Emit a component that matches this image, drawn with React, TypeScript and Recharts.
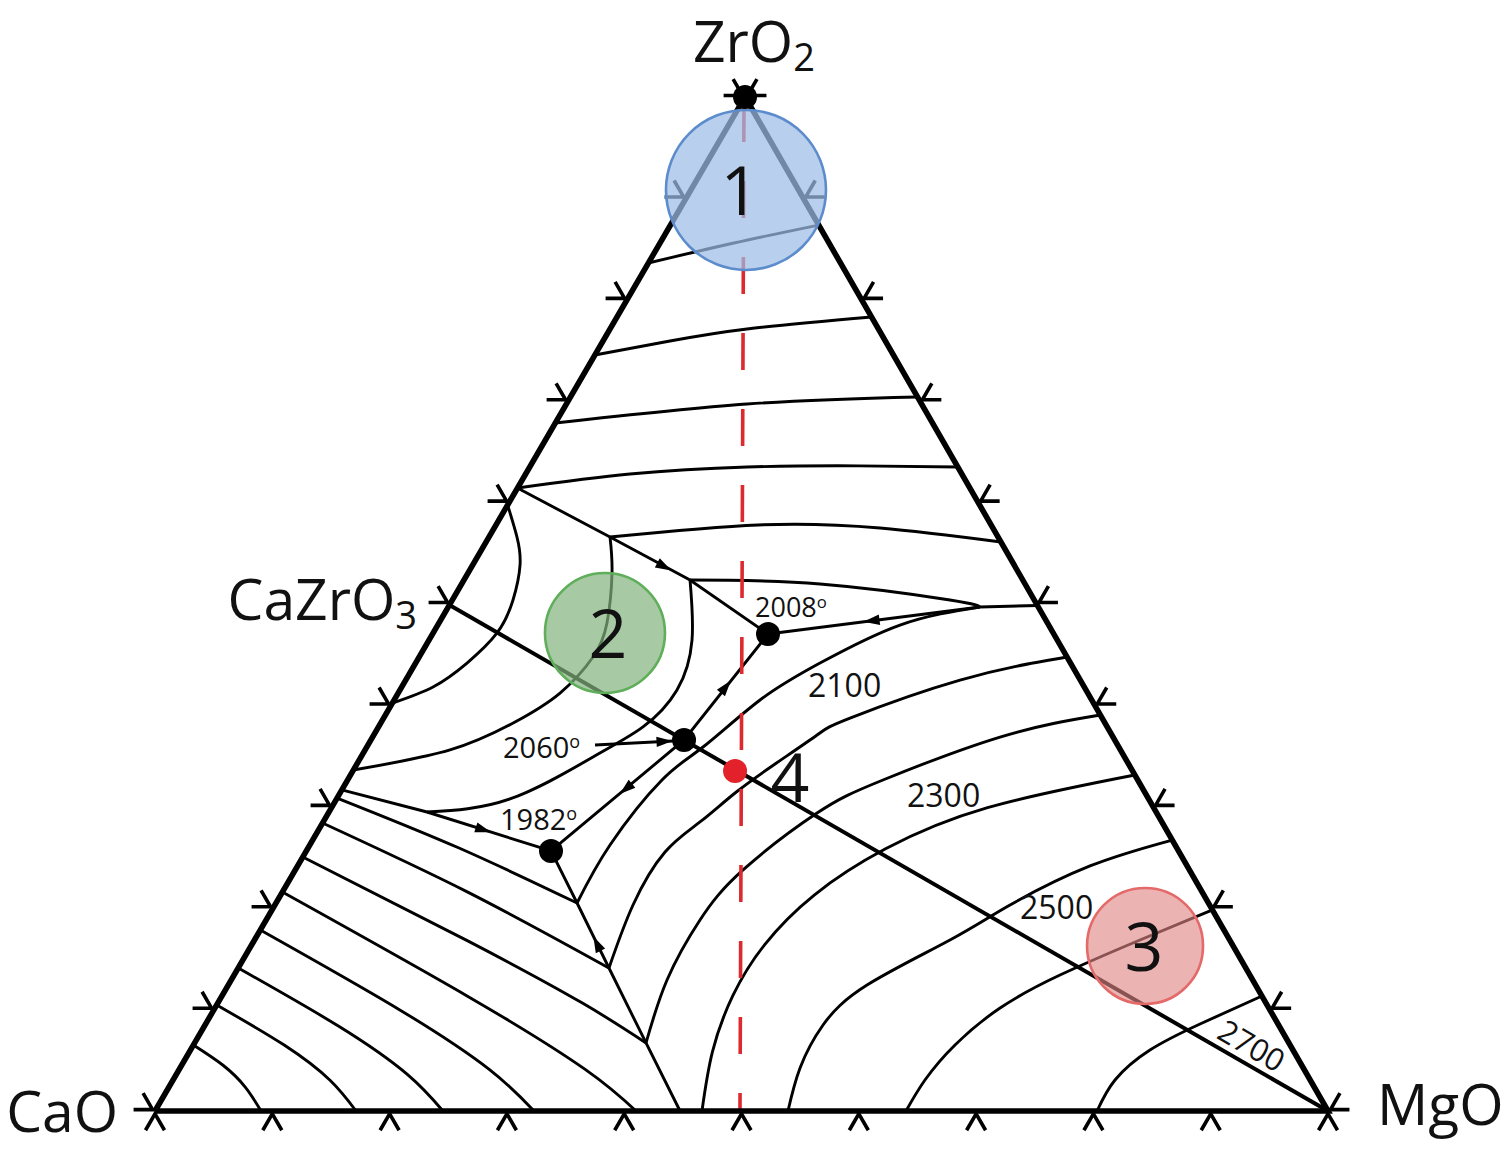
import React from 'react';
import { ComposedChart, Line, Scatter, XAxis, YAxis } from 'recharts';

// ---------- Diagram units: CaO (0,0), MgO (100,0), ZrO2 apex on top ----------
const CAO = [0, 0];
const MGO = [100, 0];
const ZRO2 = [50.3, 86.45];
const TICK_STEPS = [0, 0.1, 0.2, 0.3, 0.4, 0.5, 0.6, 0.7, 0.8, 0.9, 1];
const X_DOMAIN: [number, number] = [-13.214, 115.343];
const Y_DOMAIN: [number, number] = [-3.325, 94.713];

// ---------- ZrO2 primary field isotherms ----------
const ISO_ZR_1 = [[42.06, 72.29], [49.36, 74.0], [56.58, 75.53]];
const ISO_ZR_2 = [[37.5, 64.45], [43.9, 65.64], [50.47, 66.67], [61.09, 67.69]];
const ISO_ZR_3 = [[34.12, 58.65], [50.47, 60.27], [65.01, 60.87]];
const ISO_ZR_4 = [[30.9, 53.11], [40.49, 54.3], [50.47, 54.9], [60.0, 55.0], [68.44, 54.9]];
const ISO_ZR_5 = [[38.79, 48.93], [51.41, 49.96], [61.81, 49.7], [72.11, 48.51]];
const ISO_ZR_6 = [[45.61, 45.27], [56.69, 44.93], [67.77, 43.56], [70.33, 42.97]];

// ---------- CaZrO3 field isotherms ----------
const ISO_CZ_1 = [[30.06, 51.66], [30.86, 48.93], [31.12, 46.55], [30.52, 43.56], [29.16, 40.75], [26.6, 38.19], [23.7, 36.15], [20.24, 34.78]];
const ISO_CZ_2 = [[38.79, 48.93], [38.96, 45.86], [38.53, 41.6], [37.34, 38.7], [34.53, 35.63], [30.69, 33.16], [25.15, 30.78], [16.91, 29.07]];
const ISO_CZ_3 = [[45.61, 45.27], [45.78, 40.15], [44.5, 35.89], [41.6, 32.74], [37.34, 30.18], [30.26, 26.6], [23.19, 25.49]];

// ---------- CaO field isotherms ----------
const ISO_CA_1 = [[3.27, 5.63], [5.8, 3.9], [7.71, 2.02], [9.04, 0]];
const ISO_CA_2 = [[5.26, 9.04], [10.98, 5.64], [14.92, 2.62], [17.14, 0]];
const ISO_CA_3 = [[7.09, 12.19], [15.7, 7.2], [21.51, 3.12], [24.55, 0]];
const ISO_CA_4 = [[8.98, 15.43], [20.73, 8.7], [28.49, 3.55], [32.31, 0]];
const ISO_CA_5 = [[10.86, 18.67], [26.64, 9.79], [36.67, 3.55], [41.01, 0]];
const ISO_CA_6 = [[12.6, 21.65], [26.66, 14.5], [36.4, 9.22], [41.86, 5.8]];
const ISO_CA_7 = [[14.28, 24.55], [26.62, 18.68], [38.7, 12.19]];
const ISO_CA_8 = [[15.52, 26.68], [25.87, 22.44], [35.98, 17.73]];

// ---------- MgO field isotherms ----------
const ISO_MG_1 = [[35.98, 17.73], [38.79, 22.68], [43.22, 28.22], [46.72, 31.03], [51.58, 35.04], [56.69, 38.19], [63.51, 41.43], [70.33, 42.97]];
const ISO_MG_2 = [[38.7, 12.19], [40.75, 17.56], [43.48, 22.08], [46.46, 24.64], [49.45, 27.11], [52.86, 29.58], [56.44, 32.05], [59.25, 33.5], [68.63, 36.74], [77.75, 38.7]];
const ISO_MG_3 = [[41.86, 5.8], [43.65, 11.17], [46.46, 16.28], [50.13, 20.55], [56.44, 25.4], [62.06, 28.22], [72.04, 31.88], [80.59, 33.76]];
const ISO_MG_4 = [[46.63, 0], [47.52, 5.04], [49.27, 9.85], [51.98, 14.19], [56.2, 18.41], [62.28, 22.35], [70.97, 25.86], [83.53, 28.64]];
const ISO_MG_5 = [[53.96, 0], [54.99, 3.67], [56.95, 7.33], [60.7, 10.74], [67.77, 14.58], [72.89, 17.56], [79.71, 20.89], [86.72, 23.1]];
const ISO_MG_6 = [[64.02, 0], [65.64, 2.64], [68.2, 5.63], [72.04, 8.78], [77.15, 11.59], [83.97, 14.58], [90.15, 17.14]];
const ISO_MG_7 = [[80.31, 0], [81.84, 2.64], [84.82, 5.2], [89.09, 7.42], [94.37, 9.8]];

// ---------- Field boundaries ----------
const BND_ZR_CZ = [[30.9, 53.11], [38.79, 48.93], [45.61, 45.27], [52.26, 40.66]];
const BND_ZR_MG = [[52.26, 40.66], [70.33, 42.97], [75.22, 43.1]];
const BND_CZ_MG = [[52.26, 40.66], [45.1, 31.63], [33.76, 22.17]];
const BND_CA_MG = [[33.76, 22.17], [35.98, 17.73], [38.7, 12.19], [41.86, 5.8], [44.76, 0]];
const BND_CA_CZ = [[15.92, 27.37], [23.19, 25.49], [33.76, 22.17]];

const JOIN_CAZRO3_MGO = [[25.1, 43.14], [100, 0]];
const SECTION_LINE = [[50.21, 85.76], [49.87, 0]];
const POINTER_2060 = [[37.51, 31.2], [44.16, 31.54]];

const INVARIANT_POINTS = [[50.3, 86.45], [52.26, 40.66], [45.1, 31.63], [33.76, 22.17]];
const SAMPLE_POINT = [[49.45, 28.99]];

// arrowheads: position and direction (diagram units)
const ARROWS = [
  [43.31, 46.46, 6.82, -3.66],
  [61.21, 41.81, -18.07, -2.31],
  [48.59, 36.06, 7.16, 9.03],
  [40.24, 27.54, -11.34, -9.46],
  [27.88, 24.01, 10.57, -3.32],
  [37.73, 14.15, -11.0, 22.17],
  [43.31, 31.5, 6.65, 0.34],
];

const COMPOSITION_CIRCLES = [
  { id: '1', x: 50.38, y: 78.52 },
  { id: '2', x: 38.36, y: 40.75 },
  { id: '3', x: 84.4, y: 14.07 },
];
const CIRCLE_NUMBERS = [
  { text: '1', x: 49.87, y: 76.38 },
  { text: '2', x: 38.62, y: 38.62 },
  { text: '3', x: 84.31, y: 11.94 },
  { text: '4', x: 54.13, y: 26.34 },
];
const TEMP_LABELS = [
  { text: '2008', deg: true, x: 51.15, y: 42.11, kind: 'small' },
  { text: '2100', deg: false, x: 55.67, y: 35.29, kind: 'big' },
  { text: '2300', deg: false, x: 64.11, y: 25.92, kind: 'big' },
  { text: '2500', deg: false, x: 73.74, y: 16.37, kind: 'big' },
  { text: '2060', deg: true, x: 29.67, y: 30.09, kind: 'mid' },
  { text: '1982', deg: true, x: 29.41, y: 23.96, kind: 'mid' },
  { text: '2700', deg: false, x: 93.52, y: 5.63, kind: 'rot' },
];
const VERTEX_LABELS = [
  { text: 'ZrO', sub: '2', x: 45.86, y: 89.47, anchor: 'start' },
  { text: 'CaO', sub: '', x: -3.15, y: -1.79, anchor: 'end' },
  { text: 'MgO', sub: '', x: 104.18, y: -1.19, anchor: 'start' },
  { text: 'CaZrO', sub: '3', x: 22.34, y: 41.86, anchor: 'end' },
];

// ---------- helpers ----------
const toPts = (a: number[][]) => a.map(([x, y]) => ({ x, y }));
const lerp = (a: number[], b: number[], t: number) => ({ x: a[0] + (b[0] - a[0]) * t, y: a[1] + (b[1] - a[1]) * t });

const TRIANGLE = toPts([CAO, MGO, ZRO2, CAO]);
const TICKS = [
  ...TICK_STEPS.map((t) => ({ ...lerp(CAO, MGO, t), edge: 'base' })),
  ...TICK_STEPS.map((t) => ({ ...lerp(CAO, ZRO2, t), edge: 'left' })),
  ...TICK_STEPS.map((t) => ({ ...lerp(MGO, ZRO2, t), edge: 'right' })),
];

const ISOTHERMS = [
  ISO_ZR_1, ISO_ZR_2, ISO_ZR_3, ISO_ZR_4, ISO_ZR_5, ISO_ZR_6,
  ISO_CZ_1, ISO_CZ_2, ISO_CZ_3,
  ISO_CA_1, ISO_CA_2, ISO_CA_3, ISO_CA_4, ISO_CA_5, ISO_CA_6, ISO_CA_7, ISO_CA_8,
  ISO_MG_1, ISO_MG_2, ISO_MG_3, ISO_MG_4, ISO_MG_5, ISO_MG_6, ISO_MG_7,
];
const BOUNDARIES = [BND_ZR_CZ, BND_ZR_MG, BND_CZ_MG, BND_CA_MG, BND_CA_CZ, POINTER_2060];

const FONT = '"Open Sans", "Noto Sans", "DejaVu Sans", sans-serif';
const EDGE_NORMAL: Record<string, number> = { base: 90, left: 210, right: -30 };
const CIRCLE_STYLE: Record<string, any> = {
  '1': { r: 80, fill: '#9dbce6', opacity: 0.72, stroke: '#5d8ccc' },
  '2': { r: 60, fill: '#82b27e', opacity: 0.7, stroke: '#5fae5a' },
  '3': { r: 58, fill: '#e18484', opacity: 0.62, stroke: '#e46a6a' },
};
const TEMP_STYLE: Record<string, number> = { small: 27, mid: 29, big: 32, rot: 31 };

function TickMark(props: any) {
  const { cx, cy, payload } = props;
  if (cx == null || cy == null) return <g />;
  const n = (EDGE_NORMAL[payload.edge] * Math.PI) / 180;
  const sx = cx + 2.8 * Math.cos(n);
  const sy = cy + 2.8 * Math.sin(n);
  const L = 19;
  const a1 = n - Math.PI / 6;
  const a2 = n + Math.PI / 6;
  const d = `M${sx + L * Math.cos(a1)},${sy + L * Math.sin(a1)}L${sx},${sy}L${sx + L * Math.cos(a2)},${sy + L * Math.sin(a2)}`;
  return <path d={d} fill="none" stroke="#000" strokeWidth={3.6} />;
}

function ArrowHead(props: any) {
  const { cx, cy, payload } = props;
  if (cx == null || cy == null) return <g />;
  const ang = Math.atan2(-payload.dy, payload.dx);
  const c = Math.cos(ang);
  const s = Math.sin(ang);
  const pts = [
    [cx + 9.5 * c, cy + 9.5 * s],
    [cx - 6.5 * c - 5.2 * s, cy - 6.5 * s + 5.2 * c],
    [cx - 6.5 * c + 5.2 * s, cy - 6.5 * s - 5.2 * c],
  ];
  return <polygon points={pts.map((p) => p.join(',')).join(' ')} fill="#000" />;
}

function BigCircle(props: any) {
  const { cx, cy, payload } = props;
  const st = CIRCLE_STYLE[payload.id];
  return <circle cx={cx} cy={cy} r={st.r} fill={st.fill} fillOpacity={st.opacity} stroke={st.stroke} strokeWidth={2.6} />;
}

function Dot(color: string) {
  return (props: any) => <circle cx={props.cx} cy={props.cy} r={12} fill={color} />;
}

function NumberLabel(props: any) {
  const { cx, cy, payload } = props;
  return (
    <text x={cx} y={cy} textAnchor="middle" fontFamily={FONT} fontSize={68} fill="#111">
      {payload.text}
    </text>
  );
}

function TempLabel(props: any) {
  const { cx, cy, payload } = props;
  const fs = TEMP_STYLE[payload.kind];
  if (payload.kind === 'rot') {
    return (
      <text x={cx} y={cy} textAnchor="middle" dominantBaseline="central" fontFamily={FONT} fontSize={fs} fill="#111" transform={`rotate(30 ${cx} ${cy})`}>
        {payload.text}
      </text>
    );
  }
  return (
    <text x={cx} y={cy} fontFamily={FONT} fontSize={fs} fill="#111">
      {payload.text}
      {payload.deg ? (
        <tspan fontSize={fs * 0.62} dy={-fs * 0.34}>o</tspan>
      ) : null}
    </text>
  );
}

function VertexLabel(props: any) {
  const { cx, cy, payload } = props;
  return (
    <text x={cx} y={cy} textAnchor={payload.anchor} fontFamily={FONT} fontSize={57} fill="#111">
      {payload.text}
      {payload.sub ? (
        <tspan fontSize={38} dy={9}>{payload.sub}</tspan>
      ) : null}
    </text>
  );
}

export default function App() {
  return (
    <div style={{ position: 'absolute', left: 0, top: 0, width: 1508, height: 1150, background: '#fff' }}>
      <ComposedChart width={1508} height={1150} margin={{ top: 0, right: 0, bottom: 0, left: 0 }}>
        <XAxis type="number" dataKey="x" domain={X_DOMAIN} hide allowDataOverflow />
        <YAxis type="number" dataKey="y" domain={Y_DOMAIN} hide allowDataOverflow />

        {ISOTHERMS.map((s, i) => (
          <Line key={`iso${i}`} data={toPts(s)} dataKey="y" type="natural" stroke="#000" strokeWidth={2.9}
            dot={false} activeDot={false} isAnimationActive={false} legendType="none" />
        ))}
        {BOUNDARIES.map((s, i) => (
          <Line key={`bnd${i}`} data={toPts(s)} dataKey="y" type="linear" stroke="#000" strokeWidth={2.9}
            dot={false} activeDot={false} isAnimationActive={false} legendType="none" />
        ))}
        <Line data={toPts(JOIN_CAZRO3_MGO)} dataKey="y" type="linear" stroke="#000" strokeWidth={4}
          dot={false} activeDot={false} isAnimationActive={false} legendType="none" />
        <Line data={toPts(SECTION_LINE)} dataKey="y" type="linear" stroke="#dc2a2e" strokeWidth={3.6}
          strokeDasharray="37 39" dot={false} activeDot={false} isAnimationActive={false} legendType="none" />
        <Line data={TRIANGLE} dataKey="y" type="linear" stroke="#000" strokeWidth={5.6}
          dot={false} activeDot={false} isAnimationActive={false} legendType="none" />

        <Scatter data={TICKS} shape={TickMark} isAnimationActive={false} legendType="none" />
        <Scatter data={ARROWS.map(([x, y, dx, dy]) => ({ x, y, dx, dy }))} shape={ArrowHead} isAnimationActive={false} legendType="none" />
        <Scatter data={COMPOSITION_CIRCLES} shape={BigCircle} isAnimationActive={false} legendType="none" />
        <Scatter data={toPts(INVARIANT_POINTS)} shape={Dot('#000')} isAnimationActive={false} legendType="none" />
        <Scatter data={toPts(SAMPLE_POINT)} shape={Dot('#e3212a')} isAnimationActive={false} legendType="none" />
        <Scatter data={CIRCLE_NUMBERS} shape={NumberLabel} isAnimationActive={false} legendType="none" />
        <Scatter data={TEMP_LABELS} shape={TempLabel} isAnimationActive={false} legendType="none" />
        <Scatter data={VERTEX_LABELS} shape={VertexLabel} isAnimationActive={false} legendType="none" />
      </ComposedChart>
    </div>
  );
}
